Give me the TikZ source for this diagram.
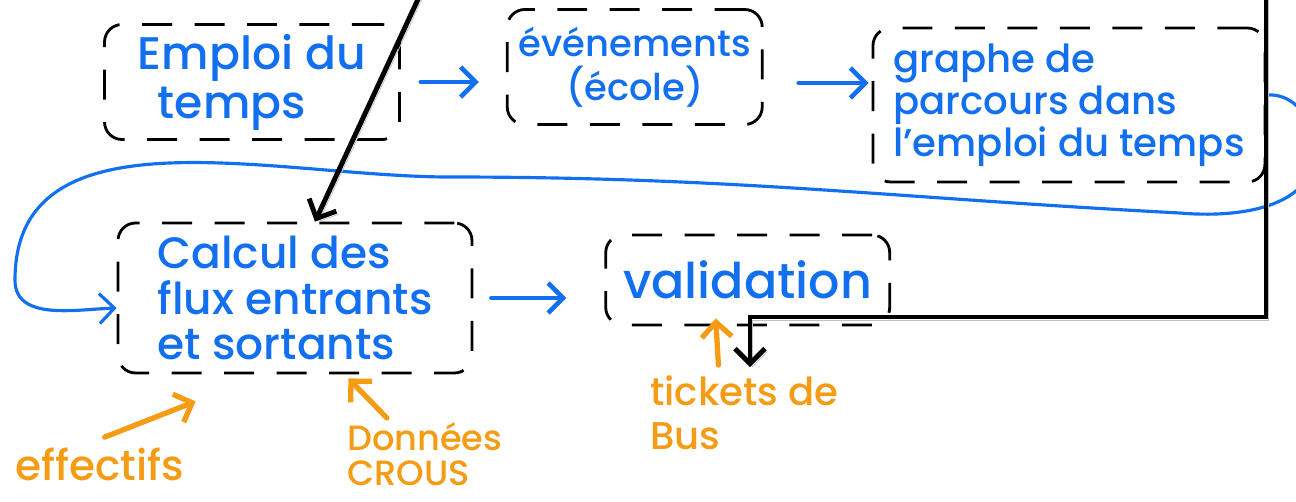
\documentclass[tikz,border=0pt]{standalone}
\usepackage{fontspec}
\setmainfont{Poppins}[UprightFont={* Medium}]
\usetikzlibrary{positioning}
\usetikzlibrary{arrows.meta}
\definecolor{crayonbleu}{RGB}{18,112,240}
\definecolor{crayonorange}{RGB}{245,155,20}
\tikzset{
    x=0.02cm, y=0.02cm,
    >={Straight Barb[length=0.3cm, width=0.6cm]},
    etape/.style={
        draw,
        dash pattern=on 0.6cm off 0.45cm,
        rounded corners=0.35cm,
        line width=1.6pt,
        text=crayonbleu,
        align=left,
        inner sep=0pt
    },
    note/.style={
        text=crayonorange,
        align=left,
        inner sep=0pt
    },
    fleche/.style={->, crayonbleu, line width=2.6pt, line cap=round},
    renvoi/.style={->, crayonbleu, line width=1.8pt},
    lien/.style={
        ->, black, line width=2.8pt,
        preaction={draw=black!25, transform canvas={shift={(0.05cm,-0.06cm)}}}
    },
    apport/.style={->, crayonorange, line width=3pt, line cap=round}
}
\begin{document}
\begin{tikzpicture}
    \useasboundingbox (0,0) rectangle (1296,-501);
    \clip (0,0) rectangle (1296,-501);

    % les trois etapes du haut
    \node[etape, minimum width=5.9cm, minimum height=2.3cm,
          font=\fontsize{26}{28}\selectfont] (emploi) at (252,-82)
          {Emploi du\\\hspace*{0.4cm}temps};
    \node[etape, right=2.1cm of emploi, yshift=0.3cm, minimum width=5.1cm,
          minimum height=2.3cm, align=center,
          font=\fontsize{21}{25}\selectfont] (evenements)
          {événements\\(école)};
    \node[etape, right=2.16cm of evenements, yshift=-0.76cm, minimum width=7.84cm,
          minimum height=3.08cm, font=\fontsize{22}{24}\selectfont] (graphe)
          {graphe de\\parcours dans\\l'emploi du temps};

    % les deux etapes du bas
    \node[etape, minimum width=7.08cm, minimum height=3cm,
          font=\fontsize{25}{26}\selectfont] (calcul) at (295,-298)
          {Calcul des\\flux entrants\\et sortants};
    \node[etape, right=2.62cm of calcul, yshift=0.36cm, minimum width=5.68cm,
          minimum height=1.8cm, font=\fontsize{28}{30}\selectfont] (validation)
          {validation};

    % donnees en entree
    \node[note, anchor=base west, font=\fontsize{24}{26}\selectfont] (effectifs)
          at (15,-480) {effectifs};
    \node[note, anchor=north west, font=\fontsize{20}{20}\selectfont] (crous)
          at (347,-422) {Données\\CROUS};
    \node[note, anchor=north west, font=\fontsize{22}{25}\selectfont] (tickets)
          at (650,-375) {tickets de\\Bus};

    % enchainement
    \draw[fleche, shorten <=0.4cm, shorten >=0.54cm]
        (emploi) -- (emploi -| evenements.west);
    \draw[fleche, shorten <=0.7cm, shorten >=0.06cm]
        ([yshift=-0.32cm]evenements.east) -- ([yshift=-0.32cm]evenements.east -| graphe.west);
    \draw[fleche, shorten <=0.36cm, shorten >=0.76cm]
        (calcul.east) -- (calcul.east -| validation.west);
    \draw[renvoi] ([yshift=0.2cm]graphe.east) to[out=5,in=90] (1315,-150)
        to[out=-90,in=-5] (1180,-213) to[out=177,in=0] (450,-177)
        to[out=180,in=90] (15,-280) to[out=-90,in=182] ([yshift=-0.2cm]calcul.west);

    % fleches noires
    \coordinate (depart1) at (420,5);
    \coordinate (depart2) at (1266,5);
    \coordinate (coude) at (750,-317);
    \draw[lien] (depart1) -- ([xshift=0.4cm]calcul.north);
    \draw[lien, shorten >=0.16cm] (depart2) |- (coude) -- (coude |- tickets.north);

    % apports
    \draw[apport] ([shift={(5,10)}]effectifs.north) -- ([shift={(79,-27)}]calcul.south west);
    \draw[apport] ([shift={(-38,4)}]crous.north) -- ([shift={(-125,-4)}]calcul.south east);
    \draw[apport] ([shift={(-26,10)}]tickets.north) -- ([shift={(-32,8)}]validation.south);
\end{tikzpicture}
\end{document}
